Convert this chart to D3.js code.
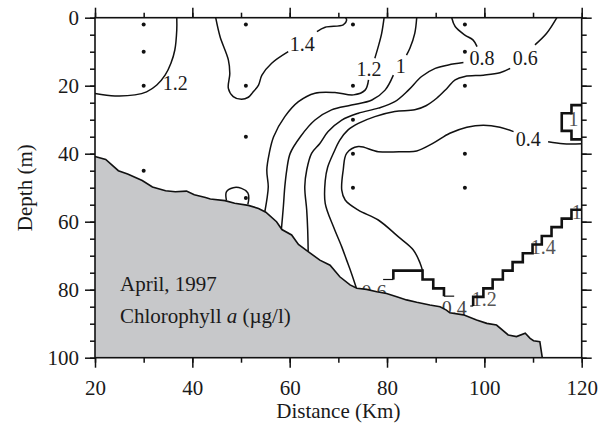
<!DOCTYPE html>
<html>
<head>
<meta charset="utf-8">
<script src="https://cdn.jsdelivr.net/npm/d3@7"></script>
<style>
  body { margin: 0; background: #fff; }
  text { font-family: "Liberation Serif", "Times New Roman", serif; fill: #1a1a1a; }
</style>
</head>
<body>
<svg id="chart" width="609" height="429"></svg>
<script>
// tick values
const distanceTicks = [20, 40, 60, 80, 100, 120];
const distanceMinor = [20, 30, 40, 50, 60, 70, 80, 90, 100, 110, 120];
const depthTicks = [0, 20, 40, 60, 80, 100];
const depthMinor = d3.range(0, 101, 5);

// sampling stations: distance (km) and depths (m)
const stationKm = [30, 51, 73, 96];
const stationDepths = [[2, 10, 20, 45], [2, 20, 35, 53], [2, 20, 30, 40, 50], [2, 10, 20, 40, 50]];

// sea floor, [km, m]
const bathymetry = [[20, 40.8], [22.2, 41.7], [24.8, 45], [26.7, 46], [29.7, 47.9], [31.8, 49.8], [34.5, 50.9],
  [36.5, 51.2], [38.8, 51], [40.4, 52.1], [42.7, 52.9], [43.7, 53.3], [46.7, 53.8], [48.7, 54.6], [51.5, 55.2],
  [53.6, 56.1], [55.1, 57.2], [57.3, 60], [58.4, 62.3], [60.4, 63.9], [61.8, 66.7], [63.8, 68.8], [66.2, 71.3],
  [68.3, 72.8], [70.3, 76.2], [72.4, 78.6], [73.8, 79.6], [75.8, 79.9], [77.9, 80.6], [79.9, 81.1], [82, 82.1],
  [84, 83], [86.1, 83.7], [88.8, 84.5], [90.9, 85], [92.2, 86], [92.9, 86.8], [95.7, 87.4], [98.4, 88.9],
  [100.5, 89.9], [102.5, 90.4], [104.9, 93.3], [106.6, 93.8], [108.4, 92.8], [109.4, 94.3], [110.1, 95],
  [111.4, 95.3], [111.9, 100]];

const blob = [[47, 53.7], [47, 51.2], [48.4, 50], [50.1, 50.2], [51.4, 51.5], [51.6, 53.1], [51.4, 54.9]];

// contour lines, each as a list of pieces [km, m]
const c12left = [[[36.8, 0], [36.8, 3.6], [36.4, 9.5], [35.6, 13.4], [34.4, 16.9], [32.7, 19.8], [30.6, 21.8],
  [28.2, 22.7], [24.1, 23], [20, 22.3]]];
const c14 = [[[44.8, 0], [45.7, 5.6], [47.4, 12.4], [47.7, 16.4], [47.4, 20.8], [48.4, 23.2], [50.1, 24],
  [51.5, 23.4], [52.4, 22], [53.6, 19.8], [54.3, 16.9], [56.3, 13.4], [59.7, 10]],
  [[65.6, 4.1], [67.3, 2.8], [71, 2.1], [71.7, 0.7], [71.5, 0]]];
const c12mid = [[[79.4, 0], [78.9, 4.6], [78.2, 8.5], [77.5, 11.9]],
  [[76.2, 18.3], [75.5, 21.3], [73.1, 22.7], [69.3, 22], [65.2, 22.2], [61.8, 24.7], [59, 29.1], [56.7, 35],
  [55.8, 39.9], [55.3, 44.8], [55.6, 49.7], [55.3, 53.6], [54.9, 57]]];
const c10 = [[[86.1, 0], [85.7, 4.6], [84.7, 9], [84, 11]],
  [[81.3, 16.9], [79.6, 21.3], [76.9, 24.2], [72.7, 25.7], [68.6, 27.1], [65.2, 30.1], [62.2, 35], [60.1, 39.9],
  [59.4, 44.8], [59, 49.7], [58.7, 55.6], [58.3, 62.2]]];
const c08 = [[[93.3, 0], [94, 2.6], [96, 5.1], [97.7, 6.6], [98.5, 8.5]],
  [[95.7, 13.2], [92.6, 13.9], [89.9, 14.9], [87.1, 17.3], [84.4, 21.3], [81.6, 24.7], [78.2, 26.6], [74.1, 28.1],
  [70.7, 30.1], [67.9, 33.5], [66.2, 37], [64.5, 39.9], [63.5, 44.8], [63.1, 49.7], [63.5, 56.6], [63.7, 62.4],
  [63.8, 68.7]]];
const c06 = [[[114.9, 0], [112.8, 4.6], [110.4, 8]],
  [[105.3, 14.9], [103.2, 16.2], [99.8, 16.9], [96, 17.3], [94, 18.3], [92.3, 20.8], [90.2, 23.7], [88, 25.9],
  [85.7, 27.1], [81.6, 27.6], [77.5, 29.1], [74.1, 31.1], [72, 33], [70.3, 36], [69.1, 39.5], [67.8, 44],
  [67.3, 48], [67.3, 54.6], [69, 61.5], [70.7, 67.4], [71.7, 71.3], [72.7, 75.2], [73.7, 79.5]]];
const c04 = [[[120, 37.1], [116.2, 37.1], [113.1, 36.5]],
  [[106, 33.5], [103.2, 32.2], [99.8, 31.6], [96.4, 32.2], [92.9, 34], [89.5, 36.9], [86.1, 39.2], [83.5, 39.4],
  [78.2, 39.4], [74.1, 37.9], [71.7, 39.9], [71, 44.8], [70.7, 50.7], [71.4, 53.6], [74.1, 56.6], [78.2, 59.5],
  [82.3, 64.4], [85.4, 68.3], [86.8, 72.2], [87.3, 74.4]]];

const contourLines = [c12left, c14, c12mid, c10, c08, c06, c04];

// blocky grid contours near the bottom / right edge
const stepRight = [[120, 25.7], [117.9, 25.7], [117.9, 28.1], [115.9, 28.1], [115.9, 33.3], [117.9, 33.3],
  [117.9, 35.8], [120, 35.8]];
const stepBottom = [[81.3, 77], [81.3, 74.4], [87.3, 74.4], [87.3, 77], [89.5, 77], [89.5, 79.6], [91.7, 79.6],
  [91.7, 81.9]];
const stepDiagonal = [[97.7, 84.8], [97.7, 82.1], [99.8, 82.1], [99.8, 79.6], [101.7, 79.6], [101.7, 77],
  [103.8, 77], [103.8, 74.4], [105.8, 74.4], [105.8, 71.9], [107.9, 71.9], [107.9, 69.3], [109.9, 69.3],
  [109.9, 66.7], [111.8, 66.7], [111.8, 64.2], [113.8, 64.2], [113.8, 61.6], [115.9, 61.6], [115.9, 59.1],
  [117.9, 59.1], [117.9, 56.5], [120, 56.5]];
const stepEnds = [[[79.2, 77], [81.3, 77]], [[91.7, 81.9], [93.8, 81.9]], [[97.1, 84.8], [97.7, 84.8]]];

// contour labels: text, km, m
const labelsTop = [["1.2", 36.5, 19.2], ["1.4", 62.6, 7.8], ["1.2", 76.3, 15], ["1", 82.8, 14.2],
  ["0.8", 99.5, 11.8], ["0.6", 108.4, 11.8], ["0.4", 109, 35.7]];
const labelsUnder = [["0.6", 77.3, 80.8], ["0.4", 93.8, 85.3]];
const labelsStep = [["1", 118.3, 29.8], ["1.2", 100, 82.8], ["1.4", 112.1, 67.4], ["1", 119, 57.2]];

const svg = d3.select("#chart");
const x = d3.scaleLinear().domain([20, 120]).range([95, 581.7]);
const y = d3.scaleLinear().domain([0, 100]).range([17.7, 357.7]);

const smooth = d3.line().x(d => x(d[0])).y(d => y(d[1])).curve(d3.curveCatmullRom.alpha(0.5));
const straight = d3.line().x(d => x(d[0])).y(d => y(d[1]));

const plot = svg.append("g");

// contours first, the sea floor covers their ends
contourLines.forEach(c => {
  plot.selectAll(null).data(c).enter().append("path")
    .attr("d", smooth)
    .attr("fill", "none")
    .attr("stroke", "#111")
    .attr("stroke-width", 1.5);
});

function addLabels(list, color) {
  plot.selectAll(null).data(list).enter().append("text")
    .attr("x", d => x(d[1]))
    .attr("y", d => y(d[2]))
    .attr("dy", "0.35em")
    .attr("text-anchor", "middle")
    .style("font-size", "20px")
    .style("fill", color)
    .text(d => d[0]);
}

addLabels(labelsUnder, "#444");

plot.append("path")
  .attr("d", straight(bathymetry.concat([[20, 100]])) + "Z")
  .attr("fill", "#c7c8ca");
plot.append("path")
  .attr("d", straight(bathymetry))
  .attr("fill", "none")
  .attr("stroke", "#111")
  .attr("stroke-width", 1.6);
plot.append("path")
  .attr("d", smooth(blob))
  .attr("fill", "none")
  .attr("stroke", "#111")
  .attr("stroke-width", 1.5);

addLabels(labelsTop, "#1a1a1a");
addLabels(labelsStep, "#555");

[stepRight, stepBottom, stepDiagonal].forEach(s => {
  plot.append("path")
    .attr("d", straight(s))
    .attr("fill", "none")
    .attr("stroke", "#111")
    .attr("stroke-width", 2.6);
});
plot.selectAll(null).data(stepEnds).enter().append("path")
  .attr("d", straight)
  .attr("fill", "none")
  .attr("stroke", "#111")
  .attr("stroke-width", 1.2);

// station dots
const dots = stationKm.flatMap((k, i) => stationDepths[i].map(m => [k, m]));
plot.selectAll(null).data(dots).enter().append("circle")
  .attr("cx", d => x(d[0]))
  .attr("cy", d => y(d[1]))
  .attr("r", 2)
  .attr("fill", "#111");

// axes
function styleAxis(g) {
  g.attr("font-family", null).attr("font-size", null);
  g.selectAll("path.domain").remove();
  g.selectAll("line").attr("stroke", "#111").attr("stroke-width", 1.5);
  g.selectAll("text").style("font-size", "21px").style("fill", "#1a1a1a")
    .style("font-family", '"Liberation Serif", "Times New Roman", serif');
}

const yb = y.range()[1], yt = y.range()[0], xl = x.range()[0], xr = x.range()[1];

svg.append("g").attr("transform", `translate(0,${yb})`)
  .call(d3.axisBottom(x).tickValues(distanceMinor).tickSize(5).tickFormat(""))
  .call(styleAxis);
svg.append("g").attr("transform", `translate(0,${yb})`)
  .call(d3.axisBottom(x).tickValues(distanceTicks).tickSize(10).tickPadding(12).tickFormat(d3.format("d")))
  .call(styleAxis);
svg.append("g").attr("transform", `translate(0,${yt})`)
  .call(d3.axisTop(x).tickValues(distanceMinor).tickSize(5).tickFormat(""))
  .call(styleAxis);
svg.append("g").attr("transform", `translate(0,${yt})`)
  .call(d3.axisTop(x).tickValues(distanceTicks).tickSize(10).tickFormat(""))
  .call(styleAxis);
svg.append("g").attr("transform", `translate(${xl},0)`)
  .call(d3.axisLeft(y).tickValues(depthMinor).tickSize(5).tickFormat(""))
  .call(styleAxis);
svg.append("g").attr("transform", `translate(${xl},0)`)
  .call(d3.axisLeft(y).tickValues(depthTicks).tickSize(10).tickPadding(6).tickFormat(d3.format("d")))
  .call(styleAxis);
svg.append("g").attr("transform", `translate(${xr},0)`)
  .call(d3.axisRight(y).tickValues(depthMinor).tickSize(5).tickFormat(""))
  .call(styleAxis);
svg.append("g").attr("transform", `translate(${xr},0)`)
  .call(d3.axisRight(y).tickValues(depthTicks).tickSize(10).tickFormat(""))
  .call(styleAxis);

svg.append("rect")
  .attr("x", xl).attr("y", yt)
  .attr("width", xr - xl).attr("height", yb - yt)
  .attr("fill", "none")
  .attr("stroke", "#111")
  .attr("stroke-width", 1.6);

// titles
svg.append("text")
  .attr("x", (xl + xr) / 2).attr("y", 418)
  .attr("text-anchor", "middle")
  .style("font-size", "21px")
  .text("Distance (Km)");
svg.append("text")
  .attr("transform", `translate(32,${(yt + yb) / 2}) rotate(-90)`)
  .attr("text-anchor", "middle")
  .style("font-size", "21px")
  .text("Depth (m)");

// note inside the plot
svg.append("text")
  .attr("x", 120).attr("y", 291)
  .style("font-size", "21px")
  .text("April, 1997");
const note = svg.append("text")
  .attr("x", 120).attr("y", 323)
  .style("font-size", "21px");
note.append("tspan").text("Chlorophyll ");
note.append("tspan").style("font-style", "italic").text("a");
note.append("tspan").text(" (\u00b5g/l)");
</script>
</body>
</html>
